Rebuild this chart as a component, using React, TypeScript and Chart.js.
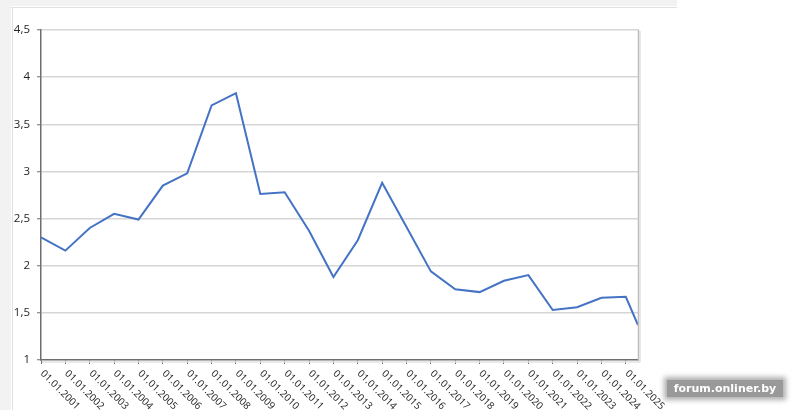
import React, { useEffect, useRef } from "react";
import { Chart, registerables } from "chart.js";

Chart.register(...registerables);

const tickLabels = [
  "01.01.2001", "01.01.2002", "01.01.2003", "01.01.2004", "01.01.2005",
  "01.01.2006", "01.01.2007", "01.01.2008", "01.01.2009", "01.01.2010",
  "01.01.2011", "01.01.2012", "01.01.2013", "01.01.2014", "01.01.2015",
  "01.01.2016", "01.01.2017", "01.01.2018", "01.01.2019", "01.01.2020",
  "01.01.2021", "01.01.2022", "01.01.2023", "01.01.2024", "01.01.2025",
];
const tickYears = [
  2001, 2002, 2003, 2004, 2005, 2006, 2007, 2008, 2009, 2010, 2011, 2012, 2013,
  2014, 2015, 2016, 2017, 2018, 2019, 2020, 2021, 2022, 2023, 2024, 2025,
];
const pointYears = [
  2001, 2002, 2003, 2004, 2005, 2006, 2007, 2008, 2009, 2010, 2011, 2012, 2013,
  2014, 2015, 2016, 2017, 2018, 2019, 2020, 2021, 2022, 2023, 2024, 2025, 2025.5,
];
const values = [
  2.30, 2.16, 2.40, 2.55, 2.49, 2.85, 2.98, 3.70, 3.83, 2.76, 2.78, 2.37, 1.88,
  2.27, 2.88, 2.41, 1.94, 1.75, 1.72, 1.84, 1.90, 1.53, 1.56, 1.66, 1.67, 1.37,
];
const yTickValues = [1, 1.5, 2, 2.5, 3, 3.5, 4, 4.5];
const yTickLabels = ["1", "1,5", "2", "2,5", "3", "3,5", "4", "4,5"];

const TEXT = "#262626";
const AXIS = "#6e6e6e";

const xLabelPlugin = {
  id: "xLabels",
  afterDraw(chart: any) {
    const ctx = chart.ctx;
    const sx = chart.scales.x;
    const bottom = chart.chartArea.bottom;
    ctx.save();
    ctx.font = '10px "Open Sans"';
    ctx.fillStyle = TEXT;
    ctx.textAlign = "left";
    ctx.textBaseline = "middle";
    tickYears.forEach((v, i) => {
      const px = sx.getPixelForValue(v);
      ctx.save();
      ctx.translate(px + 1, bottom + 12);
      ctx.rotate(Math.PI / 4);
      ctx.fillText(tickLabels[i], 0, 0);
      ctx.restore();
    });
    ctx.restore();
  },
};

const borderPlugin = {
  id: "plotBorder",
  afterDraw(chart: any) {
    const ctx = chart.ctx;
    const { right, top, bottom } = chart.chartArea;
    ctx.save();
    ctx.strokeStyle = "#bdbdbd";
    ctx.lineWidth = 1.5;
    ctx.beginPath();
    ctx.moveTo(right + 0.5, top - 0.5);
    ctx.lineTo(right + 0.5, bottom + 1);
    ctx.stroke();
    ctx.strokeStyle = "#e2e2e2";
    ctx.lineWidth = 1.5;
    ctx.beginPath();
    ctx.moveTo(right + 2, top + 1);
    ctx.lineTo(right + 2, bottom + 2);
    ctx.stroke();
    ctx.beginPath();
    ctx.moveTo(chart.chartArea.left + 1, bottom + 2);
    ctx.lineTo(right + 2, bottom + 2);
    ctx.stroke();
    ctx.restore();
  },
};

export default function App() {
  const canvasRef = useRef<HTMLCanvasElement | null>(null);

  useEffect(() => {
    if (!canvasRef.current) return;
    const chart = new Chart(canvasRef.current, {
      type: "line",
      data: {
        datasets: [
          {
            data: pointYears.map((x, i) => ({ x, y: values[i] })),
            borderColor: "#4472C4",
            borderWidth: 2,
            pointRadius: 0,
            tension: 0,
            fill: false,
          },
        ],
      },
      options: {
        animation: false,
        responsive: false,
        maintainAspectRatio: false,
        layout: { padding: { left: 0, top: 30, right: 162, bottom: 0 } },
        plugins: {
          legend: { display: false },
          tooltip: { enabled: false },
          title: { display: false },
        },
        scales: {
          x: {
            type: "linear",
            min: 2001,
            max: 2025.5,
            afterBuildTicks: (scale: any) => {
              scale.ticks = tickYears.map((v) => ({ value: v }));
            },
            afterFit: (scale: any) => {
              scale.height = 50;
            },
            ticks: { display: false },
            grid: {
              drawOnChartArea: false,
              drawTicks: true,
              tickLength: 4,
              tickColor: AXIS,
              tickWidth: 1,
            },
            border: { display: true, color: AXIS, width: 1.5 },
          },
          y: {
            type: "linear",
            min: 1,
            max: 4.5,
            afterBuildTicks: (scale: any) => {
              scale.ticks = yTickValues.map((v) => ({ value: v }));
            },
            afterFit: (scale: any) => {
              scale.width = 41;
            },
            ticks: {
              padding: 7,
              color: TEXT,
              font: { family: '"Open Sans"', size: 11.5 },
              callback: (_v: any, i: number) => yTickLabels[i],
            },
            grid: {
              color: (c: any) =>
                c.tick && c.tick.value === 1 ? "rgba(0,0,0,0)" : "#d6d6d6",
              lineWidth: 1.5,
              drawTicks: true,
              tickLength: 4,
              tickColor: AXIS,
              tickWidth: 1,
            },
            border: { display: true, color: AXIS, width: 1.5 },
          },
        },
      },
      plugins: [xLabelPlugin, borderPlugin],
    });
    return () => chart.destroy();
  }, []);

  return (
    <div
      style={{
        position: "fixed",
        left: 0,
        top: 0,
        width: 800,
        height: 410,
        background: "#ffffff",
        overflow: "hidden",
      }}
    >
      <div style={{ position: "absolute", left: 0, top: 0, width: 677, height: 6, background: "#f2f2f2" }} />
      <div style={{ position: "absolute", left: 0, top: 0, width: 11, height: 410, background: "#f2f2f2" }} />
      <div style={{ position: "absolute", left: 11, top: 7, width: 666, height: 1, background: "#e0e0e0" }} />
      <div style={{ position: "absolute", left: 12, top: 7, width: 1, height: 403, background: "#e0e0e0" }} />
      <canvas
        ref={canvasRef}
        width={800}
        height={410}
        style={{ position: "absolute", left: 0, top: 0, width: 800, height: 410 }}
      />
      <div
        style={{
          position: "absolute",
          left: 667,
          top: 380,
          width: 116,
          height: 17,
          background: "#999999",
          boxShadow: "0 0 5px 3px #b0b0b0",
          color: "#ffffff",
          fontFamily: '"DejaVu Sans", sans-serif',
          fontWeight: "bold",
          fontSize: 11,
          lineHeight: "17px",
          textAlign: "center",
          whiteSpace: "nowrap",
        }}
      >
        forum.onliner.by
      </div>
    </div>
  );
}
